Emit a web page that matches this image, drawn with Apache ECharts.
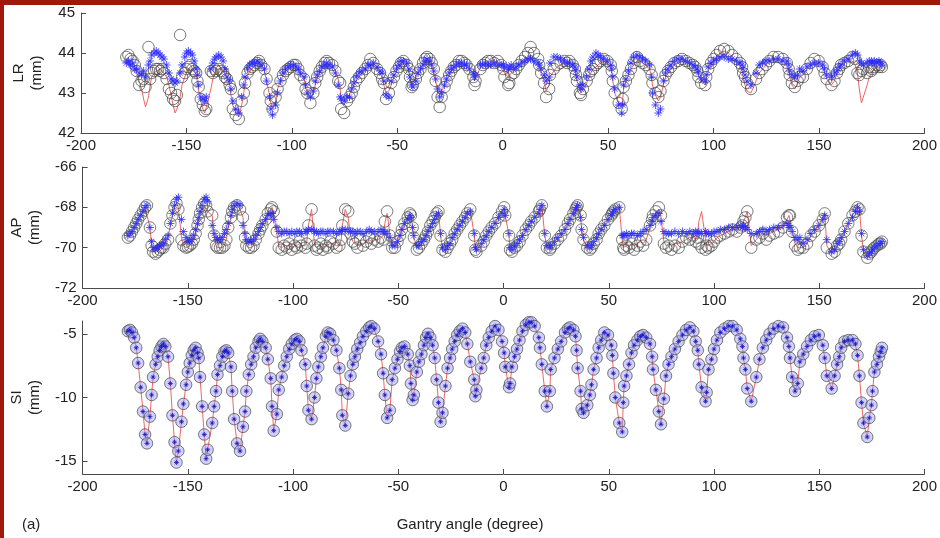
<!DOCTYPE html>
<html><head><meta charset="utf-8">
<script src="https://cdn.jsdelivr.net/npm/echarts@6/dist/echarts.min.js"></script>
<style>html,body{margin:0;padding:0;background:#fff}#c{width:940px;height:538px}</style>
</head><body><div id="c"></div><script>
// Gantry angle (degree) of each sample
const angle = [
-178.5,-177.5,-176.5,-175.5,-174.5,-173.6,-172.4,-171.3,-170.3,-169.4,
-168.0,-167.2,-166.5,-165.3,-164.3,-163.4,-162.5,-161.6,-160.7,-159.4,-158.3,-157.3,-156.3,-155.4,-154.5,
-153.0,-152.1,-150.8,-150.0,-149.1,-148.1,-147.2,-146.3,-145.4,-144.8,-144.2,-143.2,-142.2,-141.3,-140.6,
-138.4,-137.5,-136.6,-135.9,-134.7,-133.6,-132.6,-131.7,-130.8,-129.5,-128.9,-128.0,-126.6,-125.2,
-123.8,-122.8,-122.2,-121.0,-119.9,-118.8,-117.7,-116.4,-115.6,-114.6,-113.0,-112.0,-110.6,-110.0,-109.2,-107.7,
-106.8,-105.4,-104.2,-103.0,-101.8,-100.6,-99.2,-98.2,-97.0,-96.0,-94.2,-93.5,-92.7,-91.2,
-89.8,-88.9,-88.0,-86.8,-85.8,-84.4,-83.5,-82.4,-80.8,-79.4,-78.0,-77.1,-76.6,-75.2,-73.8,
-72.7,-71.6,-70.6,-69.5,-68.1,-66.8,-65.2,-63.8,-62.8,-61.4,-59.6,-58.2,-57.2,-56.4,-55.3,-54.0,
-52.9,-51.6,-50.4,-49.2,-48.3,-47.1,-45.5,-44.5,-44.0,-43.2,-42.6,-41.2,
-40.2,-39.0,-37.8,-36.8,-35.9,-34.8,-33.7,-32.7,-31.8,-30.9,-29.9,-29.0,
-27.6,-26.6,-25.4,-24.4,-23.2,-22.0,-20.8,-19.5,-18.2,-17.2,-15.8,-13.9,-13.4,-12.9,
-10.6,-9.4,-8.2,-7.0,-5.6,-4.0,-2.4,-0.7,0.3,0.8,2.6,3.1,4.0,
5.2,6.4,7.6,9.0,10.6,12.0,13.2,14.8,16.8,17.3,18.2,19.6,20.6,22.0,
22.4,24.2,25.8,27.4,29.2,30.6,31.6,33.2,34.2,34.7,35.2,36.6,37.1,38.0,39.8,41.0,41.8,
42.8,44.2,45.2,46.4,47.9,49.6,51.2,51.7,52.2,53.1,55.0,56.4,56.9,
57.3,58.4,59.6,60.8,62.0,63.6,65.0,66.3,67.8,69.6,70.6,71.0,72.4,73.8,74.8,76.2,77.2,
78.4,79.8,81.4,83.2,85.0,86.8,88.5,90.2,91.3,92.3,92.8,94.1,96.0,96.5,
97.4,98.8,100.0,101.4,103.0,105.0,107.0,108.8,110.8,112.5,113.5,114.0,114.9,115.8,117.7,120.1,
121.6,123.2,124.8,126.4,128.4,130.6,132.8,134.7,135.6,136.1,137.1,138.5,139.8,140.8,
142.4,144.2,146.0,147.8,149.8,151.7,152.6,153.6,155.9,157.3,
158.5,159.5,160.4,162.0,163.8,165.8,167.2,168.2,169.1,170.1,171.0,172.8,173.8,
174.8,175.3,176.2,177.4,178.4,179.2,179.8
];
// SI position (mm): measured, estimated and model coincide
const siPos = [
-4.8,-4.7,-4.9,-5.3,-6.1,-7.3,-9.2,-11.1,-12.9,-13.6,
-11.5,-9.8,-8.4,-7.4,-6.8,-6.3,-6.0,-5.8,-6.0,-6.8,-8.9,-11.4,-13.5,-15.1,-14.2,
-11.9,-10.5,-9.0,-8.0,-7.3,-6.7,-6.3,-6.1,-6.5,-6.9,-8.4,-10.7,-12.9,-14.8,-14.1,
-12.0,-10.7,-9.5,-8.2,-7.5,-6.8,-6.4,-6.3,-6.5,-7.6,-9.5,-11.7,-13.6,-14.2,
-12.3,-11.1,-9.5,-8.2,-7.4,-6.8,-6.1,-5.6,-5.4,-5.6,-6.1,-7.0,-8.5,-10.7,-12.6,-11.3,
-9.4,-8.4,-7.5,-6.8,-6.2,-5.8,-5.5,-5.4,-5.6,-6.3,-7.4,-9.1,-11.0,-11.7,
-10.0,-8.5,-7.6,-6.8,-6.1,-5.2,-4.9,-5.0,-5.5,-6.3,-7.7,-9.4,-11.4,-12.2,-9.7,
-8.3,-7.4,-6.8,-6.2,-5.7,-5.2,-4.8,-4.5,-4.4,-4.6,-5.6,-6.6,-8.1,-9.8,-11.6,-11.0,
-8.6,-7.7,-7.0,-6.4,-6.1,-6.0,-6.6,-7.5,-8.9,-10.2,-9.8,-8.0,
-7.2,-6.6,-5.9,-5.3,-5.0,-5.3,-5.9,-6.9,-8.6,-10.4,-11.9,-11.2,
-9.1,-7.7,-6.9,-6.2,-5.6,-5.1,-4.8,-4.6,-4.9,-5.8,-7.2,-8.6,-9.9,-9.4,
-7.7,-6.9,-5.9,-5.3,-4.8,-4.4,-4.7,-5.6,-6.5,-7.6,-9.2,-8.9,-7.6,
-6.8,-6.2,-5.5,-4.8,-4.3,-4.1,-4.1,-4.4,-5.3,-6.1,-7.4,-9.5,-10.7,-9.5,
-7.8,-6.9,-6.2,-5.6,-4.9,-4.6,-4.5,-4.7,-5.2,-6.3,-7.7,-9.5,-10.9,-11.2,-10.6,-9.8,-9.0,
-7.8,-6.9,-6.1,-5.5,-4.9,-5.1,-5.9,-6.7,-8.1,-10.0,-12.0,-12.7,-10.4,
-9.1,-8.3,-7.4,-6.5,-5.9,-5.5,-5.2,-5.1,-5.3,-5.8,-6.8,-7.8,-9.4,-11.1,-12.1,-10.1,-8.3,
-7.4,-6.8,-6.2,-5.6,-5.1,-4.7,-4.5,-4.8,-5.6,-6.3,-7.4,-9.2,-10.3,-9.6,
-7.8,-7.0,-6.2,-5.5,-4.9,-4.6,-4.4,-4.4,-4.7,-5.4,-6.0,-6.9,-7.8,-9.3,-10.3,-8.4,
-7.0,-6.1,-5.5,-5.0,-4.6,-4.4,-4.5,-5.3,-6.0,-6.9,-8.4,-9.5,-8.9,-7.2,
-6.6,-6.0,-5.5,-5.2,-5.1,-5.9,-6.9,-8.3,-9.3,-8.3,
-7.4,-6.8,-6.1,-5.6,-5.5,-5.5,-5.8,-6.7,-8.3,-10.4,-12.0,-13.1,-11.6,
-10.6,-9.5,-8.0,-7.4,-6.8,-6.4,-6.1
];
// LR (mm): measured (circles), estimated (asterisks), model (red line)
const lrMeas = [
43.9,43.95,43.85,43.8,43.7,43.55,43.2,43.3,43.35,43.15,
44.15,43.35,43.5,43.55,43.6,43.6,43.55,43.6,43.5,43.35,43.1,43.0,42.85,42.8,42.95,
44.45,43.4,43.5,43.6,43.65,43.7,43.6,43.55,43.5,43.3,43.15,42.85,42.7,42.55,42.6,
43.55,43.5,43.6,43.55,43.6,43.55,43.5,43.4,43.35,43.2,43.1,42.6,42.45,42.35,
42.8,43.0,43.25,43.5,43.6,43.65,43.7,43.75,43.8,43.7,43.6,43.35,43.0,42.8,42.6,42.9,
43.1,43.3,43.45,43.55,43.6,43.65,43.7,43.7,43.6,43.45,43.35,43.1,43.0,42.75,
43.0,43.25,43.4,43.55,43.65,43.75,43.8,43.75,43.7,43.55,43.3,43.25,42.6,42.5,42.8,
42.9,43.0,43.15,43.3,43.4,43.5,43.6,43.7,43.85,43.75,43.6,43.5,43.35,43.25,42.85,43.0,
43.25,43.4,43.55,43.65,43.75,43.8,43.7,43.6,43.4,43.15,43.2,43.35,
43.5,43.6,43.75,43.85,43.9,43.85,43.75,43.6,43.3,42.9,42.65,42.9,
43.15,43.3,43.45,43.55,43.65,43.7,43.8,43.8,43.75,43.7,43.6,43.4,43.2,43.3,
43.6,43.7,43.75,43.8,43.8,43.75,43.8,43.7,43.6,43.4,43.2,43.25,43.45,
43.5,43.6,43.7,43.8,43.9,44.0,44.15,44.0,43.85,43.7,43.5,43.25,42.9,43.1,
43.45,43.6,43.7,43.75,43.8,43.75,43.8,43.7,43.6,43.45,43.3,43.0,42.95,43.1,43.3,43.45,43.55,
43.6,43.7,43.75,43.8,43.85,43.8,43.7,43.55,43.3,43.0,42.75,42.6,42.85,
43.15,43.3,43.45,43.6,43.75,43.9,43.8,43.75,43.7,43.6,43.45,43.25,43.0,42.9,43.05,43.3,43.45,
43.55,43.65,43.75,43.8,43.85,43.8,43.75,43.7,43.65,43.55,43.4,43.25,43.2,43.4,
43.6,43.75,43.85,43.95,44.05,44.1,44.05,43.95,43.85,43.75,43.65,43.5,43.4,43.25,43.1,43.35,
43.5,43.6,43.7,43.8,43.9,43.9,43.85,43.75,43.6,43.45,43.25,43.15,43.3,43.4,
43.4,43.6,43.75,43.85,43.8,43.65,43.5,43.35,43.2,43.3,
43.5,43.6,43.7,43.75,43.8,43.9,43.85,43.5,43.45,43.55,43.6,43.5,43.65,
43.55,43.6,43.65,43.7,43.65,43.7,43.65
];
const lrEst = [
43.75,43.8,43.7,43.75,43.6,43.6,43.5,43.45,43.55,43.4,
43.7,43.8,43.95,44.0,44.05,44.0,43.95,43.9,43.85,43.7,43.5,43.35,43.3,43.25,43.3,
43.5,43.7,43.9,44.0,44.05,44.0,43.95,43.8,43.6,43.45,43.2,42.9,42.85,42.8,42.9,
43.6,43.75,43.85,43.9,43.95,43.9,43.8,43.6,43.4,43.3,43.1,42.8,42.6,42.5,
42.9,43.2,43.4,43.6,43.7,43.75,43.75,43.8,43.75,43.7,43.6,43.3,42.9,42.6,42.45,42.7,
43.0,43.3,43.5,43.6,43.65,43.7,43.7,43.65,43.6,43.5,43.4,43.2,43.0,42.9,
43.05,43.3,43.45,43.55,43.65,43.7,43.75,43.7,43.65,43.5,43.2,42.9,42.85,42.8,42.9,
42.9,43.1,43.25,43.4,43.5,43.55,43.6,43.7,43.7,43.75,43.65,43.55,43.5,43.3,42.95,42.9,
43.3,43.45,43.6,43.7,43.8,43.8,43.75,43.6,43.4,43.2,43.15,43.3,
43.5,43.6,43.7,43.8,43.85,43.8,43.7,43.55,43.35,43.1,42.9,43.0,
43.2,43.35,43.5,43.6,43.65,43.7,43.75,43.75,43.7,43.7,43.6,43.5,43.4,43.45,
43.7,43.7,43.75,43.7,43.7,43.75,43.7,43.7,43.7,43.65,43.6,43.65,43.7,
43.6,43.65,43.7,43.75,43.8,43.85,43.85,43.8,43.75,43.7,43.6,43.45,43.3,43.4,
43.75,43.9,43.9,43.85,43.8,43.75,43.75,43.7,43.65,43.55,43.4,43.2,43.1,43.2,43.4,43.6,43.8,
43.9,44.0,43.95,43.9,43.85,43.8,43.7,43.6,43.4,43.1,42.7,42.5,42.7,
43.2,43.35,43.55,43.75,43.9,43.95,43.9,43.85,43.8,43.7,43.4,43.0,42.7,42.5,42.6,43.3,43.5,
43.6,43.7,43.8,43.85,43.85,43.8,43.75,43.7,43.65,43.6,43.5,43.35,43.3,43.45,
43.65,43.75,43.8,43.85,43.9,43.9,43.85,43.85,43.8,43.75,43.7,43.6,43.45,43.3,43.2,43.5,
43.7,43.75,43.8,43.8,43.85,43.85,43.8,43.8,43.7,43.55,43.45,43.4,43.45,43.6,
43.55,43.65,43.7,43.75,43.75,43.7,43.6,43.45,43.4,43.5,
43.55,43.65,43.7,43.8,43.85,43.95,44.0,43.95,43.8,43.75,43.7,43.75,43.8,
43.8,43.75,43.8,43.75,43.8,43.75,43.7
];
const lrFit = [
43.85,43.85,43.8,43.75,43.65,43.5,43.3,43.1,42.85,42.65,
42.9,43.2,43.4,43.5,43.55,43.6,43.6,43.55,43.5,43.4,43.2,42.95,42.7,42.5,42.6,
42.9,43.2,43.4,43.5,43.6,43.6,43.6,43.55,43.45,43.3,43.05,42.8,42.6,42.5,42.55,
43.1,43.35,43.5,43.6,43.6,43.6,43.55,43.5,43.4,43.2,42.95,42.7,42.5,42.4,
42.7,43.0,43.25,43.45,43.55,43.6,43.7,43.75,43.75,43.7,43.55,43.3,42.95,42.75,42.6,42.8,
43.1,43.3,43.45,43.55,43.6,43.65,43.7,43.7,43.6,43.5,43.35,43.15,43.0,42.9,
43.0,43.2,43.4,43.5,43.6,43.7,43.75,43.75,43.7,43.55,43.35,43.1,42.8,42.7,42.9,
42.95,43.1,43.2,43.3,43.4,43.5,43.6,43.65,43.7,43.7,43.6,43.5,43.4,43.2,43.0,43.05,
43.2,43.4,43.55,43.65,43.7,43.75,43.7,43.55,43.35,43.2,43.25,43.4,
43.5,43.6,43.7,43.8,43.85,43.8,43.7,43.5,43.3,43.05,42.95,43.05,
43.2,43.35,43.45,43.55,43.6,43.7,43.75,43.75,43.75,43.7,43.6,43.45,43.3,43.35,
43.65,43.7,43.75,43.75,43.8,43.8,43.75,43.7,43.6,43.5,43.4,43.4,43.5,
43.55,43.65,43.7,43.8,43.85,43.9,43.95,43.9,43.8,43.7,43.5,43.3,43.05,43.2,
43.4,43.55,43.65,43.7,43.75,43.75,43.75,43.7,43.6,43.45,43.3,43.1,43.0,43.05,43.25,43.4,43.5,
43.6,43.65,43.7,43.75,43.8,43.75,43.65,43.5,43.3,43.0,42.75,42.65,42.85,
43.1,43.3,43.45,43.6,43.7,43.8,43.8,43.75,43.7,43.6,43.4,43.2,42.95,42.8,42.9,43.2,43.4,
43.5,43.6,43.7,43.75,43.8,43.8,43.75,43.7,43.65,43.55,43.45,43.3,43.2,43.35,
43.55,43.7,43.8,43.9,44.0,44.05,44.0,43.9,43.8,43.7,43.55,43.4,43.2,43.05,43.0,43.3,
43.5,43.6,43.7,43.8,43.85,43.85,43.8,43.7,43.55,43.4,43.2,43.1,43.25,43.4,
43.45,43.6,43.7,43.8,43.8,43.65,43.5,43.35,43.2,43.3,
43.5,43.6,43.7,43.75,43.8,43.8,43.7,43.5,43.1,42.75,42.9,43.2,43.4,
43.5,43.55,43.6,43.65,43.65,43.65,43.65
];
// AP (mm): measured (circles), estimated (asterisks), model (red line)
const apMeas = [
-69.5,-69.4,-69.2,-69.0,-68.8,-68.6,-68.4,-68.2,-68.0,-67.9,
-69.0,-69.9,-70.2,-70.3,-70.2,-70.1,-70.0,-70.0,-69.8,-69.6,-68.8,-68.4,-68.0,-67.8,-68.1,
-69.6,-69.9,-70.0,-69.95,-69.9,-69.8,-69.6,-69.3,-68.9,-68.6,-68.3,-68.0,-67.8,-67.9,-68.2,
-68.4,-69.4,-69.9,-70.0,-70.0,-70.0,-69.9,-69.6,-69.0,-68.5,-68.2,-68.0,-67.9,-68.1,
-68.5,-69.5,-69.9,-70.0,-70.0,-69.9,-69.6,-69.3,-69.1,-68.9,-68.6,-68.3,-68.1,-68.0,-68.2,-69.2,
-70.0,-70.1,-69.9,-70.0,-69.8,-70.1,-69.9,-70.0,-69.7,-69.9,-70.0,-69.8,-68.9,-68.1,
-69.9,-70.1,-70.0,-69.8,-70.1,-69.9,-70.0,-69.7,-69.8,-70.0,-69.9,-69.6,-68.9,-68.1,-68.2,
-69.3,-69.7,-69.8,-70.0,-69.6,-69.9,-69.7,-69.5,-69.8,-69.6,-69.7,-69.5,-69.6,-68.7,-68.2,-69.4,
-70.0,-70.0,-69.7,-69.4,-69.1,-68.8,-68.5,-68.3,-68.4,-69.0,-69.5,-70.1,
-70.0,-69.8,-69.6,-69.4,-69.2,-68.9,-68.7,-68.5,-68.3,-68.2,-69.4,-70.1,
-70.2,-70.0,-69.8,-69.6,-69.3,-69.1,-68.9,-68.7,-68.5,-68.3,-68.1,-69.4,-70.1,-70.2,
-69.9,-69.7,-69.4,-69.2,-69.0,-68.8,-68.5,-68.2,-68.0,-68.4,-69.4,-70.1,-70.2,
-70.0,-69.9,-69.7,-69.4,-69.1,-68.9,-68.7,-68.5,-68.2,-68.1,-67.9,-69.4,-70.0,-70.1,
-70.0,-69.8,-69.6,-69.4,-69.1,-68.8,-68.6,-68.3,-68.1,-68.0,-67.9,-68.4,-69.1,-69.6,-70.0,-70.1,-70.0,
-69.8,-69.6,-69.3,-69.1,-68.9,-68.6,-68.4,-68.3,-68.2,-68.1,-68.0,-69.6,-70.0,
-70.1,-69.9,-70.0,-69.8,-70.1,-69.9,-69.7,-69.9,-69.6,-68.9,-68.6,-68.4,-68.2,-68.0,-68.4,-69.8,-70.0,
-69.9,-70.1,-69.9,-70.0,-69.7,-69.5,-69.6,-69.4,-69.7,-69.5,-69.8,-70.0,-70.1,-69.9,
-70.0,-69.9,-69.7,-69.5,-69.4,-69.3,-69.2,-69.1,-69.2,-69.0,-68.9,-68.7,-68.5,-68.2,-70.0,-69.6,
-69.5,-69.3,-69.6,-69.4,-69.3,-69.2,-69.0,-68.5,-68.4,-68.4,-69.2,-69.9,-70.1,-70.0,
-70.0,-69.8,-69.4,-69.2,-68.9,-68.6,-68.3,-70.0,-70.3,-70.2,
-69.9,-69.8,-69.6,-69.2,-68.8,-68.4,-68.2,-68.0,-68.1,-69.4,-70.2,-70.5,-70.3,
-70.2,-70.1,-70.0,-69.9,-69.8,-69.8,-69.7
];
const apEst = [
-69.4,-69.3,-69.2,-69.0,-68.8,-68.6,-68.4,-68.2,-68.0,-67.9,
-69.0,-69.7,-70.0,-70.1,-70.0,-69.9,-69.9,-69.8,-69.6,-69.4,-68.8,-68.3,-67.9,-67.6,-67.5,
-68.6,-69.2,-69.5,-69.7,-69.7,-69.6,-69.4,-69.1,-68.8,-68.5,-68.2,-67.9,-67.6,-67.5,-67.7,
-68.9,-69.3,-69.5,-69.6,-69.6,-69.5,-69.3,-69.1,-68.8,-68.4,-68.1,-67.9,-67.8,-67.9,
-68.9,-69.3,-69.6,-69.7,-69.7,-69.6,-69.4,-69.2,-69.0,-68.8,-68.6,-68.4,-68.3,-68.3,-68.6,-69.0,
-69.2,-69.3,-69.2,-69.2,-69.3,-69.2,-69.3,-69.2,-69.2,-69.3,-69.2,-69.2,-69.1,-69.1,
-69.2,-69.2,-69.3,-69.2,-69.2,-69.3,-69.2,-69.2,-69.2,-69.3,-69.2,-69.2,-69.1,-69.1,-69.2,
-69.2,-69.2,-69.3,-69.2,-69.2,-69.3,-69.2,-69.1,-69.2,-69.2,-69.2,-69.1,-69.2,-69.2,-69.3,-69.5,
-69.9,-69.9,-69.7,-69.4,-69.1,-68.8,-68.6,-68.4,-68.5,-69.0,-69.4,-69.9,
-69.9,-69.7,-69.6,-69.4,-69.2,-69.0,-68.8,-68.6,-68.4,-68.3,-69.3,-70.0,
-70.1,-69.9,-69.8,-69.5,-69.3,-69.1,-68.9,-68.7,-68.5,-68.3,-68.2,-69.3,-70.0,-70.1,
-69.8,-69.6,-69.4,-69.2,-69.0,-68.8,-68.5,-68.3,-68.1,-68.4,-69.3,-70.0,-70.1,
-69.9,-69.8,-69.6,-69.4,-69.1,-68.9,-68.7,-68.5,-68.3,-68.1,-67.9,-69.3,-69.9,-70.0,
-69.9,-69.7,-69.5,-69.3,-69.1,-68.8,-68.6,-68.3,-68.1,-68.0,-67.9,-68.5,-69.1,-69.5,-69.9,-70.0,-69.9,
-69.7,-69.5,-69.3,-69.1,-68.9,-68.6,-68.4,-68.3,-68.2,-68.1,-68.0,-69.4,-69.4,
-69.4,-69.3,-69.4,-69.3,-69.3,-69.4,-69.3,-69.2,-69.1,-68.9,-68.7,-68.5,-68.4,-68.3,-68.7,-69.2,-69.3,
-69.3,-69.3,-69.2,-69.3,-69.2,-69.3,-69.2,-69.3,-69.2,-69.3,-69.2,-69.3,-69.2,-69.3,
-69.3,-69.3,-69.2,-69.2,-69.1,-69.1,-69.0,-69.0,-69.0,-68.9,-69.0,-68.9,-69.0,-69.1,-69.3,-69.3,
-69.2,-69.1,-69.2,-69.1,-69.0,-69.0,-68.9,-68.8,-68.9,-69.0,-69.2,-69.5,-69.6,-69.5,
-69.8,-69.6,-69.3,-69.1,-68.9,-68.6,-68.4,-69.6,-70.2,-70.1,
-69.8,-69.7,-69.5,-69.2,-68.8,-68.5,-68.2,-68.0,-68.2,-69.3,-70.1,-70.4,-70.3,
-70.2,-70.1,-70.0,-69.9,-69.8,-69.8,-69.7
];
const apFit = [
-69.5,-69.4,-69.2,-69.0,-68.8,-68.6,-68.4,-68.2,-68.0,-67.95,
-69.0,-69.9,-70.2,-70.2,-70.1,-70.1,-70.0,-69.9,-69.8,-69.5,-68.9,-68.4,-68.0,-67.8,-68.0,
-69.5,-69.9,-70.0,-70.0,-69.9,-69.8,-69.6,-69.3,-68.9,-68.6,-68.3,-68.0,-67.9,-67.9,-68.2,
-68.4,-69.4,-69.9,-70.0,-70.0,-70.0,-69.9,-69.6,-69.0,-68.5,-68.2,-68.0,-67.9,-68.1,
-68.5,-69.5,-69.9,-70.0,-70.0,-69.9,-69.6,-69.3,-69.1,-68.9,-68.6,-68.3,-68.1,-68.0,-68.3,-69.3,
-69.9,-70.0,-69.9,-69.9,-69.9,-70.0,-69.9,-69.9,-69.8,-69.9,-69.9,-69.7,-68.9,-68.1,
-69.9,-70.0,-69.9,-69.9,-70.0,-69.9,-69.9,-69.8,-69.8,-69.9,-69.9,-69.6,-68.9,-68.1,-68.5,
-69.4,-69.7,-69.8,-69.9,-69.8,-69.8,-69.7,-69.6,-69.7,-69.6,-69.6,-69.5,-69.4,-68.8,-68.3,-69.3,
-70.0,-69.9,-69.7,-69.4,-69.1,-68.8,-68.5,-68.3,-68.4,-69.0,-69.5,-70.0,
-70.0,-69.8,-69.6,-69.4,-69.2,-68.9,-68.7,-68.5,-68.3,-68.2,-69.4,-70.1,
-70.2,-70.0,-69.8,-69.6,-69.3,-69.1,-68.9,-68.7,-68.5,-68.3,-68.1,-69.4,-70.1,-70.2,
-69.9,-69.7,-69.4,-69.2,-69.0,-68.8,-68.5,-68.2,-68.0,-68.4,-69.4,-70.1,-70.2,
-70.0,-69.9,-69.7,-69.4,-69.1,-68.9,-68.7,-68.5,-68.2,-68.1,-67.9,-69.4,-70.0,-70.1,
-70.0,-69.8,-69.6,-69.4,-69.1,-68.8,-68.6,-68.3,-68.1,-68.0,-67.9,-68.4,-69.1,-69.6,-70.0,-70.1,-70.0,
-69.8,-69.6,-69.3,-69.1,-68.9,-68.6,-68.4,-68.3,-68.2,-68.1,-68.0,-69.6,-70.0,
-70.0,-69.9,-69.9,-69.8,-69.9,-69.8,-69.7,-69.8,-69.6,-69.0,-68.7,-68.5,-68.3,-68.1,-68.5,-69.7,-69.9,
-69.8,-69.9,-69.8,-69.8,-69.7,-69.6,-69.5,-69.5,-69.6,-69.2,-68.7,-68.2,-69.6,-69.9,
-69.9,-69.8,-69.7,-69.5,-69.4,-69.3,-69.2,-69.1,-69.1,-69.0,-68.9,-68.7,-68.5,-68.2,-69.9,-69.6,
-69.4,-69.3,-69.4,-69.3,-69.2,-69.1,-69.0,-68.6,-68.4,-68.4,-69.1,-69.8,-70.0,-70.0,
-70.0,-69.8,-69.4,-69.2,-68.9,-68.6,-68.3,-69.9,-70.3,-70.2,
-69.9,-69.8,-69.6,-69.2,-68.8,-68.4,-68.2,-68.0,-68.1,-69.4,-70.2,-70.5,-70.3,
-70.2,-70.1,-70.0,-69.9,-69.8,-69.8,-69.7
];
// Axis ticks and text
const xTicks = [-200, 200, 50];          // min, max, step
const lrRange = [42, 45, 1];
const apRange = [-72, -66, 2];
const siRange = [-16, -4];
const siTicks = [-15, -10, -5];
const panelNames = ['LR\n(mm)', 'AP\n(mm)', 'SI\n(mm)'];
const xTitle = 'Gantry angle (degree)';
const panelTag = '(a)';

const FONT = '"Liberation Sans", Arial, Helvetica, sans-serif';
const AX = '#4a4a4a';
const STAR = 'path://M5,0L5,10M0,5L10,5M1.6,1.6L8.4,8.4M8.4,1.6L1.6,8.4';

function pts(ys) { return angle.map((a, i) => [a, ys[i]]); }

const grids = [
  {left: 81, right: 8, top: 13, height: 120},
  {left: 81, right: 8, top: 167, height: 121},
  {left: 81, right: 8, top: 321, height: 153}
];
const xAxes = grids.map((g, i) => ({
  type: 'value', gridIndex: i, min: xTicks[0], max: xTicks[1], interval: xTicks[2],
  axisLine: {onZero: false, lineStyle: {color: AX, width: 1}},
  axisTick: {inside: true, length: 5, lineStyle: {color: AX}},
  axisLabel: {color: '#222', fontSize: 15, fontFamily: FONT, margin: 5},
  splitLine: {show: false}
}));
function yAx(i, extra) {
  return Object.assign({
    type: 'value', gridIndex: i, position: 'left',
    name: panelNames[i], nameLocation: 'middle', nameRotate: 90, nameGap: 35,
    nameTextStyle: {color: '#222', fontSize: 15, fontFamily: FONT, lineHeight: 18, align: 'center'},
    axisLine: {show: true, onZero: false, lineStyle: {color: AX, width: 1}},
    axisTick: {show: true, inside: true, length: 5, lineStyle: {color: AX}},
    axisLabel: {color: '#222', fontSize: 15, fontFamily: FONT, margin: 6},
    splitLine: {show: false}
  }, extra);
}
const yAxes = [
  yAx(0, {min: lrRange[0], max: lrRange[1], interval: lrRange[2]}),
  yAx(1, {min: apRange[0], max: apRange[1], interval: apRange[2]}),
  yAx(2, {min: siRange[0], max: siRange[1]})
];
yAxes[2].axisLabel.customValues = siTicks;
yAxes[2].axisTick.customValues = siTicks;

function fitLine(i, ys) {
  return {type: 'line', xAxisIndex: i, yAxisIndex: i, data: pts(ys), showSymbol: false, symbol: 'none',
    lineStyle: {color: '#f06666', width: 1}, z: 1, silent: true, animation: false};
}
function circles(i, ys, fill) {
  return {type: 'scatter', xAxisIndex: i, yAxisIndex: i, data: pts(ys), symbol: 'circle', symbolSize: 11.5,
    itemStyle: {color: fill, borderColor: '#474747', borderWidth: 0.9}, z: 2, silent: true, animation: false};
}
function stars(i, ys, size, color) {
  return {type: 'scatter', xAxisIndex: i, yAxisIndex: i, data: pts(ys), symbol: STAR, symbolSize: size,
    itemStyle: {color: 'none', borderColor: color, borderWidth: 1}, z: 3, silent: true, animation: false};
}

const option = {
  backgroundColor: '#fff',
  animation: false,
  grid: grids,
  xAxis: xAxes,
  yAxis: yAxes,
  series: [
    fitLine(0, lrFit), circles(0, lrMeas, 'rgba(0,0,0,0)'), stars(0, lrEst, 8, '#2a2aff'),
    fitLine(1, apFit), circles(1, apMeas, 'rgba(0,0,0,0)'), stars(1, apEst, 8, '#2a2aff'),
    fitLine(2, siPos), circles(2, siPos, 'rgba(160,160,245,0.6)'), stars(2, siPos, 5, '#1414c8')
  ],
  graphic: [
    {type: 'rect', left: 0, top: 0, shape: {width: 940, height: 5}, style: {fill: '#a0180b'}, z: 100},
    {type: 'rect', left: 0, top: 0, shape: {width: 4, height: 538}, style: {fill: '#a0180b'}, z: 100},
    {type: 'text', left: 22, top: 517, style: {text: panelTag, fill: '#222', font: '15px ' + FONT}},
    {type: 'text', left: 'center', top: 517, style: {text: xTitle, fill: '#222', font: '15px ' + FONT}}
  ]
};
const chart = echarts.init(document.getElementById('c'), null, {renderer: 'canvas'});
chart.setOption(option);
[siPos, lrMeas, lrEst, lrFit, apMeas, apEst, apFit].forEach((a, k) => {
  if (a.length !== angle.length) throw new Error('length mismatch in array ' + k + ': ' + a.length + ' vs ' + angle.length);
});
</script></body></html>
